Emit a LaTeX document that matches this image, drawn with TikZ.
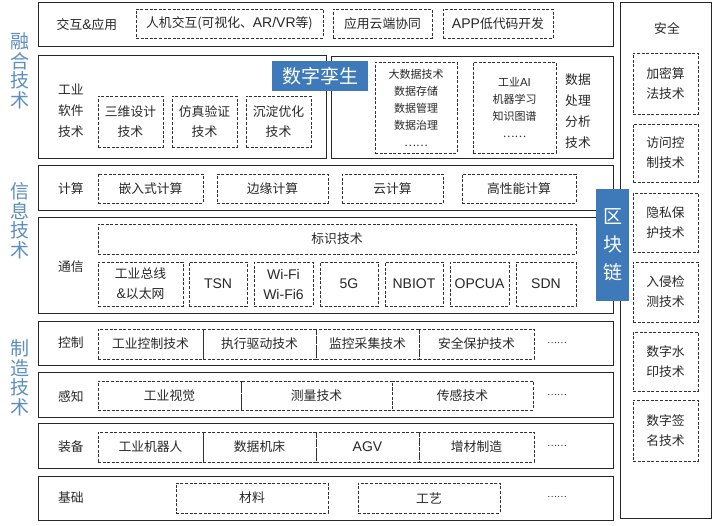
\documentclass[tikz,border=0pt]{standalone}
\usepackage{fontspec}
\setmainfont{Noto Sans CJK SC}
\newfontfamily\latf{Liberation Sans}
\newcommand\lt[1]{{\latf\fontsize{14}{20}\selectfont #1}}
\newcommand\lts[1]{{\latf\fontsize{11.5}{17}\selectfont #1}}
\definecolor{bluebox}{RGB}{62,122,186}
\definecolor{sidelab}{RGB}{92,142,190}
\definecolor{txt}{RGB}{40,40,40}
\newcommand\bx[7]{\node[#1,minimum width={#4-#2},minimum height={#5-#3}] (#6) at ({(#2+#4)/2},{(#3+#5)/2}) {#7};}
\begin{document}
\begin{tikzpicture}[x=1pt,y=-1pt,
  frame/.style={draw=black!85,line width=1pt,inner sep=0pt,outer sep=0pt},
  dbox/.style={draw=black!80,dashed,dash pattern=on 3pt off 1.6pt,line width=0.8pt,inner sep=0pt,outer sep=0pt,align=center,text=txt,font=\fontsize{12.8}{20}\selectfont},
  sbox/.style={dbox,font=\fontsize{11}{17}\selectfont},
  lab/.style={text=txt,align=center,font=\fontsize{12.8}{21}\selectfont,inner sep=0pt},
  side/.style={text=sidelab,align=center,font=\fontsize{19}{19.5}\selectfont,inner sep=0pt},
  blue/.style={fill=bluebox,draw=none,text=white,inner sep=0pt,outer sep=0pt,align=center},
  dots/.style={text=txt,font=\fontsize{9}{10}\selectfont,inner sep=0pt}]
\useasboundingbox[fill=white] (0,0) rectangle (724,526);
% side labels
\node[side] (sideA) at (20,71) {融\\合\\技\\术};
\node[side] (sideB) at (20,221) {信\\息\\技\\术};
\node[side] (sideC) at (20,378) {制\\造\\技\\术};
% row 1
\bx{frame}{38}{3}{613}{47}{r1}{}
\node[lab] (l1) at (87,25) {交互\lt{\&}应用};
\bx{dbox}{136}{9}{323}{38}{a1}{人机交互(可视化、\lt{AR/VR}等)}
\bx{dbox}{333}{9}{432}{38}{a2}{应用云端协同}
\bx{dbox}{443}{9}{553}{38}{a3}{\lt{APP}低代码开发}
% row 2
\bx{frame}{38}{56}{326}{159}{r2a}{}
\bx{frame}{331}{57}{613}{159}{r2b}{}
\node[lab] (l2) at (71,111) {工业\\软件\\技术};
\bx{dbox}{98}{96}{163}{147}{b1}{三维设计\\技术}
\bx{dbox}{172}{96}{237}{147}{b2}{仿真验证\\技术}
\bx{dbox}{246}{96}{311}{147}{b3}{沉淀优化\\技术}
\bx{sbox}{375}{62}{457}{153}{b4}{大数据技术\\数据存储\\数据管理\\数据治理\\……}
\bx{sbox}{473}{62}{556}{153}{b5}{工业\lts{AI}\\机器学习\\知识图谱\\……}
\node[lab] (l2b) at (578,111) {数据\\处理\\分析\\技术};
\bx{blue,font=\fontsize{19}{20}\selectfont}{272}{61}{368}{91}{twin}{数字孪生}
% row 3
\bx{frame}{38}{166}{613}{211}{r3}{}
\node[lab] (l3) at (71,189) {计算};
\bx{dbox}{98}{174}{203}{203}{c1}{嵌入式计算}
\bx{dbox}{217}{174}{328}{203}{c2}{边缘计算}
\bx{dbox}{342}{174}{443}{203}{c3}{云计算}
\bx{dbox}{462}{174}{576}{203}{c4}{高性能计算}
% row 4
\bx{frame}{38}{218}{613}{314}{r4}{}
\node[lab] (l4) at (71,267) {通信};
\bx{dbox}{98}{224}{576}{254}{d0}{标识技术}
\bx{dbox}{98}{262}{183}{306}{d1}{工业总线\\\lt{\&}以太网}
\bx{dbox}{189}{262}{247}{306}{d2}{\lt{TSN}}
\bx{dbox}{254}{262}{313}{306}{d3}{\lt{Wi-Fi}\\\lt{Wi-Fi6}}
\bx{dbox}{320}{262}{378}{306}{d4}{\lt{5G}}
\bx{dbox}{385}{262}{443}{306}{d5}{\lt{NBIOT}}
\bx{dbox}{450}{262}{509}{306}{d6}{\lt{OPCUA}}
\bx{dbox}{516}{262}{576}{306}{d7}{\lt{SDN}}
% row 5 control
\bx{frame}{38}{322}{613}{366}{r5}{}
\node[lab] (l5) at (71,343) {控制};
\bx{dbox}{98}{329}{203}{359}{e1}{工业控制技术}
\bx{dbox}{203}{329}{316}{359}{e2}{执行驱动技术}
\bx{dbox}{316}{329}{419}{359}{e3}{监控采集技术}
\bx{dbox}{419}{329}{534}{359}{e4}{安全保护技术}
\node[dots] (e5) at (557,343) {……};
% row 6 sensing
\bx{frame}{38}{373}{613}{418}{r6}{}
\node[lab] (l6) at (71,397) {感知};
\bx{dbox}{98}{381}{241}{410}{f1}{工业视觉}
\bx{dbox}{241}{381}{392}{410}{f2}{测量技术}
\bx{dbox}{392}{381}{533}{410}{f3}{传感技术}
\node[dots] (f4) at (557,395) {……};
% row 7 equipment
\bx{frame}{38}{424}{613}{469}{r7}{}
\node[lab] (l7) at (71,447) {装备};
\bx{dbox}{98}{432}{203}{462}{g1}{工业机器人}
\bx{dbox}{203}{432}{316}{462}{g2}{数据机床}
\bx{dbox}{316}{432}{419}{462}{g3}{\lt{AGV}}
\bx{dbox}{419}{432}{534}{462}{g4}{增材制造}
\node[dots] (g5) at (557,446) {……};
% row 8 basis
\bx{frame}{38}{477}{613}{521}{r8}{}
\node[lab] (l8) at (71,498) {基础};
\bx{dbox}{176}{483}{328}{513}{h1}{材料}
\bx{dbox}{358}{483}{500}{513}{h2}{工艺}
\node[dots] (h3) at (557,497) {……};
% security column
\bx{frame}{620}{3}{711}{519}{sec}{}
\node[lab] (ls) at (667,29) {安全};
\bx{dbox}{633}{53}{698}{114}{s1}{加密算\\法技术}
\bx{dbox}{633}{124}{698}{182}{s2}{访问控\\制技术}
\bx{dbox}{633}{193}{698}{252}{s3}{隐私保\\护技术}
\bx{dbox}{633}{262}{698}{322}{s4}{入侵检\\测技术}
\bx{dbox}{633}{332}{698}{391}{s5}{数字水\\印技术}
\bx{dbox}{633}{400}{698}{461}{s6}{数字签\\名技术}
% blockchain
\bx{blue,font=\fontsize{19}{28}\selectfont}{596}{189}{629}{301}{chain}{区\\块\\链}
\end{tikzpicture}
\end{document}
